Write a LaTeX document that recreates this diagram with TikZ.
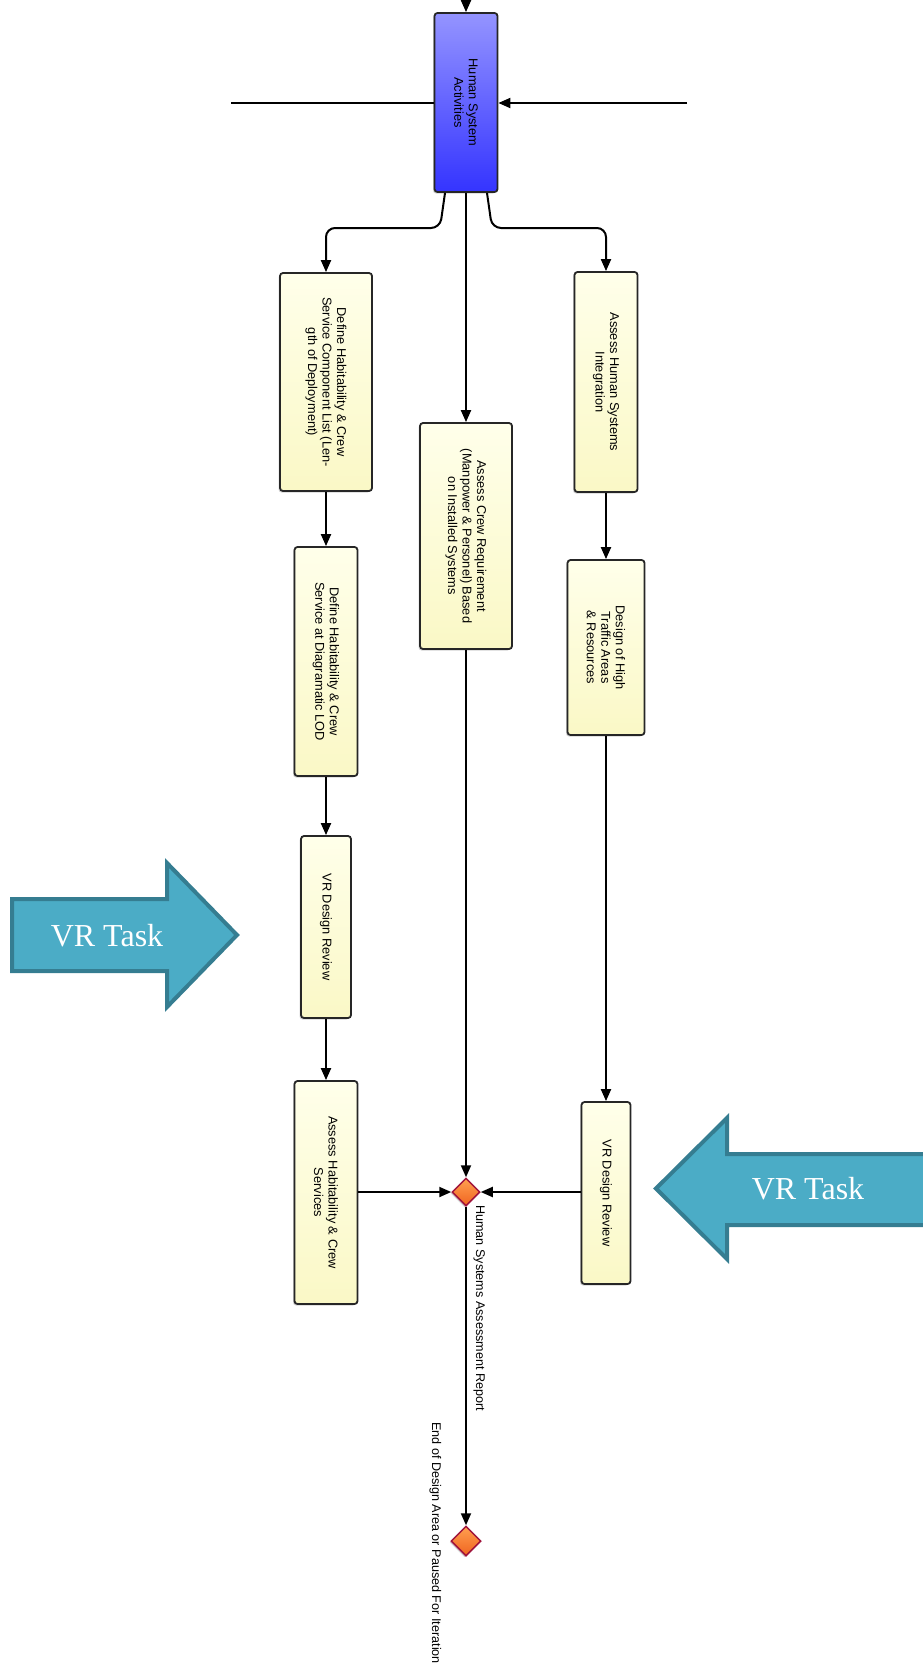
\documentclass[tikz,border=0pt]{standalone}
\usepackage{fontspec}
\setmainfont{Liberation Sans}
\newfontfamily\vrserif{Liberation Serif}
\usetikzlibrary{arrows.meta,shapes.geometric,shadows,calc}
\definecolor{vrfill}{HTML}{4BACC6}
\definecolor{vrdraw}{HTML}{357D91}
\definecolor{ytop}{HTML}{FFFFEA}
\definecolor{ybot}{HTML}{FAF8C6}
\definecolor{btop}{HTML}{9494FF}
\definecolor{bbot}{HTML}{3434FF}
\definecolor{gtop}{HTML}{FFA050}
\definecolor{gbot}{HTML}{F06420}
\definecolor{gdraw}{HTML}{A0143C}
\begin{document}
\begin{tikzpicture}[x=1pt,y=-1pt,
  arr/.style={line width=2pt,-{Triangle[length=12pt,width=10pt]}},
  conn/.style={line width=2pt},
  taskbox/.style={draw=black!85,line width=1.8pt,rounded corners=3pt,
    top color=ytop,bottom color=ybot,inner sep=0pt,
    drop shadow={shadow xshift=-1.5pt,shadow yshift=-1.5pt,opacity=0.35}},
  hsabox/.style={taskbox,top color=btop,bottom color=bbot},
  txt/.style={rotate=-90,align=center,font=\fontsize{12.8}{14.5}\selectfont,text=black,inner sep=0pt},
  lbl/.style={rotate=-90,font=\fontsize{12.6}{14.5}\selectfont,text=black,inner sep=0pt,anchor=base west},
  gate/.style={diamond,aspect=1,draw=gdraw,line width=1.5pt,top color=gtop,bottom color=gbot,
    minimum size=28pt,inner sep=0pt,
    drop shadow={shadow xshift=-1.5pt,shadow yshift=-1.5pt,opacity=0.35}},
  vrarrow/.style={fill=vrfill,draw=vrdraw,line width=4pt,line join=miter},
  vrtext/.style={text=white,font=\vrserif\fontsize{32}{36}\selectfont,inner sep=0pt}
]
\useasboundingbox (0,0) rectangle (922,1663);

% boxes
\node[hsabox,minimum width=63pt,minimum height=179pt] (hsa) at (466,102.5) {};
\node[txt] at (hsa) {Human System\\Activities};

\node[taskbox,minimum width=92pt,minimum height=218pt] (b1) at (326,382) {};
\node[txt] at (b1) {Define Habitability \& Crew\\Service Component List (Len-\\gth of Deployment)};

\node[taskbox,minimum width=63pt,minimum height=229pt] (b2) at (326,661.5) {};
\node[txt] at (b2) {Define Habitability \& Crew\\Service at Diagramatic LOD};

\node[taskbox,minimum width=50pt,minimum height=182pt] (b3) at (326,927) {};
\node[txt] at (b3) {VR Design Review};

\node[taskbox,minimum width=63pt,minimum height=223pt] (b4) at (326,1192.5) {};
\node[txt] at (b4) {Assess Habitability \& Crew\\Services};

\node[taskbox,minimum width=92pt,minimum height=226pt] (m1) at (466,536) {};
\node[txt] at (m1) {Assess Crew Requirement\\(Manpower \& Personel) Based\\on Installed Systems};

\node[taskbox,minimum width=63pt,minimum height=220pt] (r1) at (606,382) {};
\node[txt] at (r1) {Assess Human Systems\\Integration};

\node[taskbox,minimum width=77pt,minimum height=175pt] (r2) at (606,647.5) {};
\node[txt] at (r2) {Design of High\\Traffic Areas\\\& Resources};

\node[taskbox,minimum width=49pt,minimum height=182pt] (r3) at (606,1193) {};
\node[txt] at (r3) {VR Design Review};

% gates
\node[gate] (d1) at (466,1192) {};
\node[gate,minimum size=30pt] (d2) at (466,1541) {};

% labels
\node[lbl] (lrep) at (476,1205) {Human Systems Assessment Report};
\node[lbl] (lend) at (432,1422) {End of Design Area or Paused For Iteration};

% top connectors
\coordinate (inL) at (231,103);
\coordinate (inR) at (687,103);
\coordinate (inT) at (466,-15);
\draw[conn] (inL) -- (inL -| hsa.west);
\draw[arr] (inR) -- (inR -| hsa.east);
\draw[arr] (inT) -- (hsa.north);

% branches
\coordinate (bl) at (440,228);
\coordinate (br) at (492,228);
\draw[arr,rounded corners=9pt] ($(hsa.south)+(-21,0)$) -- (bl) -- (bl -| b1.north) -- (b1.north);
\draw[arr,rounded corners=9pt] ($(hsa.south)+(21,0)$) -- (br) -- (br -| r1.north) -- (r1.north);
\draw[arr] (hsa.south) -- (m1.north);

% left column
\draw[arr] (b1.south) -- (b2.north);
\draw[arr] (b2.south) -- (b3.north);
\draw[arr] (b3.south) -- (b4.north);
\draw[arr] (b4.east |- d1) -- (d1.west);
% middle
\draw[arr] (m1.south) -- (d1.north);
% right column
\draw[arr] (r1.south) -- (r2.north);
\draw[arr] (r2.south) -- (r3.north);
\draw[arr] (r3.west |- d1) -- (d1.east);
% out
\draw[arr] (d1.south) -- (d2.north);

% VR task arrows
\draw[vrarrow] (12,899) -- (167,899) -- (167,863) -- (237,935) -- (167,1007) -- (167,971) -- (12,971) -- cycle;
\node[vrtext] (vrl) at (107,936) {VR Task};
\draw[vrarrow] (945,1154) -- (727,1154) -- (727,1118) -- (656,1188.5) -- (727,1259) -- (727,1225) -- (945,1225) -- cycle;
\node[vrtext] (vrr) at (808,1189) {VR Task};
\end{tikzpicture}
\end{document}
